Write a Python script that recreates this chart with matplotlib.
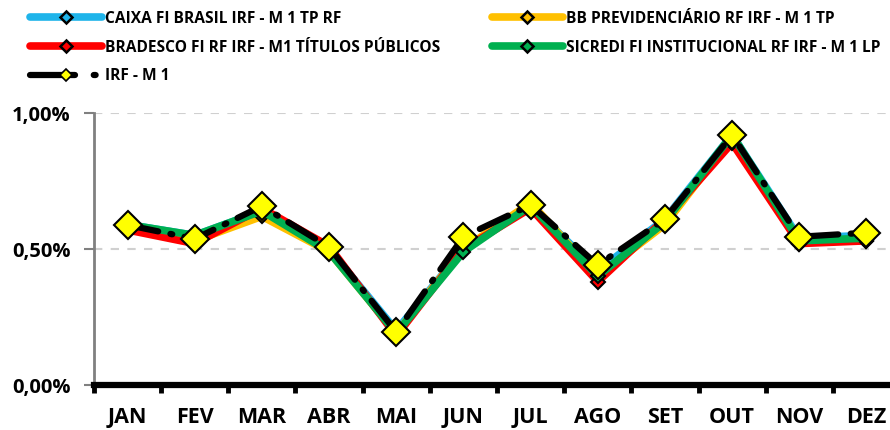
import matplotlib.pyplot as plt
from matplotlib.lines import Line2D

plt.rcParams['font.family'] = ['Open Sans', 'DejaVu Sans']
plt.rcParams['font.weight'] = 'bold'

months = ["JAN", "FEV", "MAR", "ABR", "MAI", "JUN", "JUL", "AGO", "SET", "OUT", "NOV", "DEZ"]

caixa = [0.59, 0.55, 0.64, 0.50, 0.20, 0.50, 0.66, 0.42, 0.61, 0.92, 0.54, 0.55]
bb = [0.58, 0.53, 0.62, 0.49, 0.19, 0.50, 0.67, 0.40, 0.59, 0.91, 0.53, 0.53]
bradesco = [0.57, 0.52, 0.65, 0.51, 0.18, 0.50, 0.65, 0.38, 0.61, 0.89, 0.52, 0.53]
sicredi = [0.59, 0.55, 0.64, 0.49, 0.19, 0.49, 0.66, 0.40, 0.60, 0.92, 0.53, 0.54]
irf_m1 = [0.588, 0.537, 0.658, 0.507, 0.195, 0.545, 0.662, 0.441, 0.610, 0.919, 0.545, 0.560]

names = ["CAIXA FI BRASIL IRF - M 1 TP RF", "BB PREVIDENCIÁRIO RF IRF - M 1 TP",
         "BRADESCO FI RF IRF - M1 TÍTULOS PÚBLICOS", "SICREDI FI INSTITUCIONAL RF IRF - M 1 LP",
         "IRF - M 1"]

fig = plt.figure(figsize=(8.9, 4.3), dpi=100)
ax = fig.add_axes([94 / 890, 45 / 430, 806 / 890, 272 / 430])

x = list(range(len(months)))
series = [(caixa, "#1fb4ea"), (bb, "#ffc000"), (bradesco, "#ff0000"), (sicredi, "#00b050")]
for vals, col in series:
    ax.plot(x, vals, color=col, lw=5.5, marker="D", ms=7, mfc=col, mec="black", mew=1.5,
            solid_joinstyle="miter", clip_on=False, zorder=3)
ax.plot(x, irf_m1, color="black", lw=4.5, dashes=(5, 2, 0.3, 2), dash_capstyle="round",
        marker="D", ms=14, mfc="#ffff00", mec="black", mew=1.5, clip_on=False, zorder=5)

ax.set_xlim(-0.5, 11.5)
ax.set_ylim(0, 1.0)
ax.set_yticks([0, 0.5, 1.0])
ax.set_yticklabels(["0,00%", "0,50%", "1,00%"], fontsize=14.5, fontweight="bold")
ax.set_xticks(x)
ax.set_xticklabels(months, fontsize=15.5, fontweight="bold")
ax.set_xticks([i - 0.5 for i in range(13)], minor=True)
ax.tick_params(axis="x", which="major", length=0, pad=16)
ax.tick_params(axis="x", which="minor", length=6, width=3.5, color="black", direction="out")
ax.tick_params(axis="y", length=7, width=1.5, color="#808080", pad=10)
ax.grid(axis="y", color="#d0d0d0", ls=(0, (4, 4)), lw=1.5)
ax.set_axisbelow(True)
for s in ["top", "right"]:
    ax.spines[s].set_visible(False)
ax.spines["left"].set_color("#808080")
ax.spines["left"].set_linewidth(2)
ax.spines["bottom"].set_color("black")
ax.spines["bottom"].set_linewidth(4.5)

handles = []
for vals, col in series:
    handles.append(Line2D([], [], color=col, lw=5.5, marker="D", ms=6, mfc=col, mec="black", mew=1.8,
                          solid_capstyle="round"))
handles.append(Line2D([], [], color="black", lw=4.5, dashes=(7.2, 3.0, 0.3, 3), dash_capstyle="round",
                      marker="D", ms=6, mfc="#ffff00", mec="black", mew=1.2))
order = [0, 2, 4, 1, 3]
leg = fig.legend([handles[i] for i in order], [names[i] for i in order], ncol=2, loc="upper left",
                 bbox_to_anchor=(0.022, 1.0), frameon=False, handlelength=4.6, columnspacing=3.3,
                 labelspacing=0.82, handletextpad=0.2, borderaxespad=0.3,
                 prop={"weight": "bold", "size": 11.2})

fig.savefig("out.png", dpi=100)
